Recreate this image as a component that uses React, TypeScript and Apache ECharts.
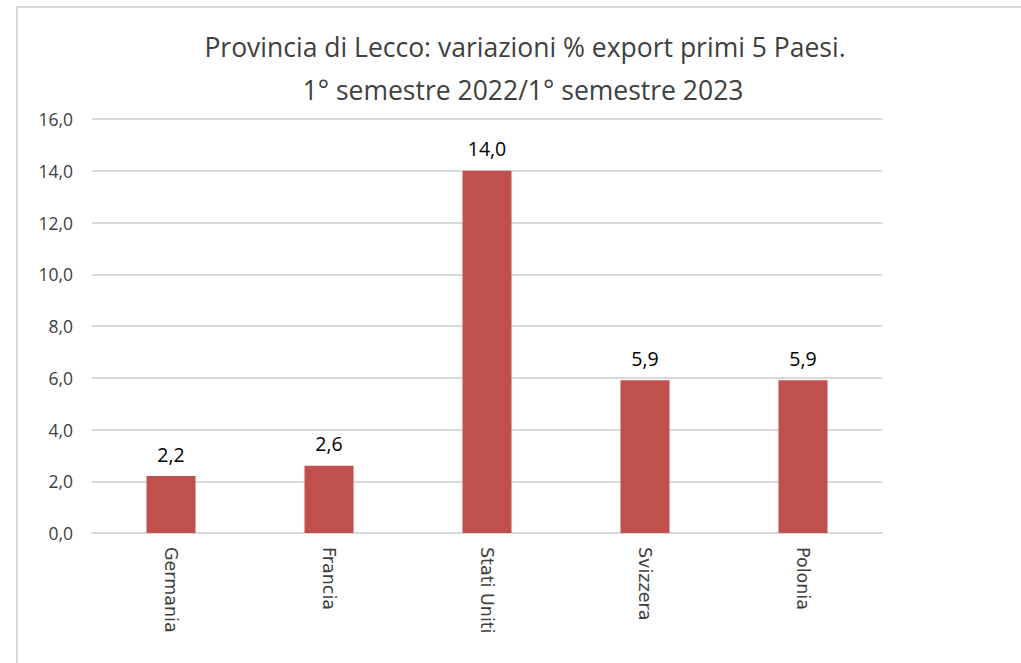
import React, { useEffect, useRef } from "react";
import * as echarts from "echarts";

const categories = ["Germania", "Francia", "Stati Uniti", "Svizzera", "Polonia"];
const values = [2.2, 2.6, 14.0, 5.9, 5.9];
const titleLines = [
  "Provincia di Lecco: variazioni % export primi 5 Paesi.",
  "1° semestre 2022/1° semestre 2023",
];

const fmt = (v: number) => v.toFixed(1).replace(".", ",");

export default function App() {
  const ref = useRef<HTMLDivElement>(null);
  useEffect(() => {
    if (!ref.current) return;
    const chart = echarts.init(ref.current, null, { renderer: "svg" });
    chart.setOption({
      animation: false,
      backgroundColor: "#ffffff",
      graphic: [
        { type: "line", shape: { x1: 17, y1: 7, x2: 1021, y2: 7 }, style: { stroke: "#d9d9d9", lineWidth: 2 } },
        { type: "line", shape: { x1: 17, y1: 6, x2: 17, y2: 663 }, style: { stroke: "#d9d9d9", lineWidth: 2 } },
        {
          type: "text",
          x: 525,
          y: 47,
          style: { text: titleLines[0], textAlign: "center", textVerticalAlign: "middle", fontFamily: "Open Sans", fontSize: 26.5, fill: "#404040" },
        },
        {
          type: "text",
          x: 523,
          y: 90,
          style: { text: titleLines[1], textAlign: "center", textVerticalAlign: "middle", fontFamily: "Open Sans", fontSize: 26.5, fill: "#404040" },
        },
      ],
      grid: { left: 92, right: 139, top: 119, bottom: 130, containLabel: false },
      xAxis: {
        type: "category",
        data: categories,
        axisLine: { lineStyle: { color: "#d9d9d9", width: 2 } },
        axisTick: { show: false },
        axisLabel: {
          rotate: -90,
          margin: 14,
          color: "#404040",
          fontFamily: "DejaVu Sans",
          fontSize: 17.5,
        },
      },
      yAxis: {
        type: "value",
        min: 0,
        max: 16,
        interval: 2,
        axisLine: { show: false },
        axisTick: { show: false },
        splitLine: { lineStyle: { color: "#d9d9d9", width: 2 } },
        axisLabel: {
          formatter: (v: number) => fmt(v),
          margin: 19,
          color: "#404040",
          fontFamily: "Open Sans",
          fontSize: 17.5,
        },
      },
      series: [
        {
          type: "bar",
          data: values,
          barWidth: 49,
          itemStyle: { color: "#c0504d" },
          label: {
            show: true,
            position: "top",
            distance: 12,
            formatter: (p: any) => fmt(p.value),
            color: "#000000",
            fontFamily: "Open Sans",
            fontSize: 19.5,
          },
        },
      ],
    });
    return () => chart.dispose();
  }, []);
  return (
    <div
      ref={ref}
      style={{ position: "absolute", left: 0, top: 0, width: 1021, height: 663, background: "#fff" }}
    />
  );
}
